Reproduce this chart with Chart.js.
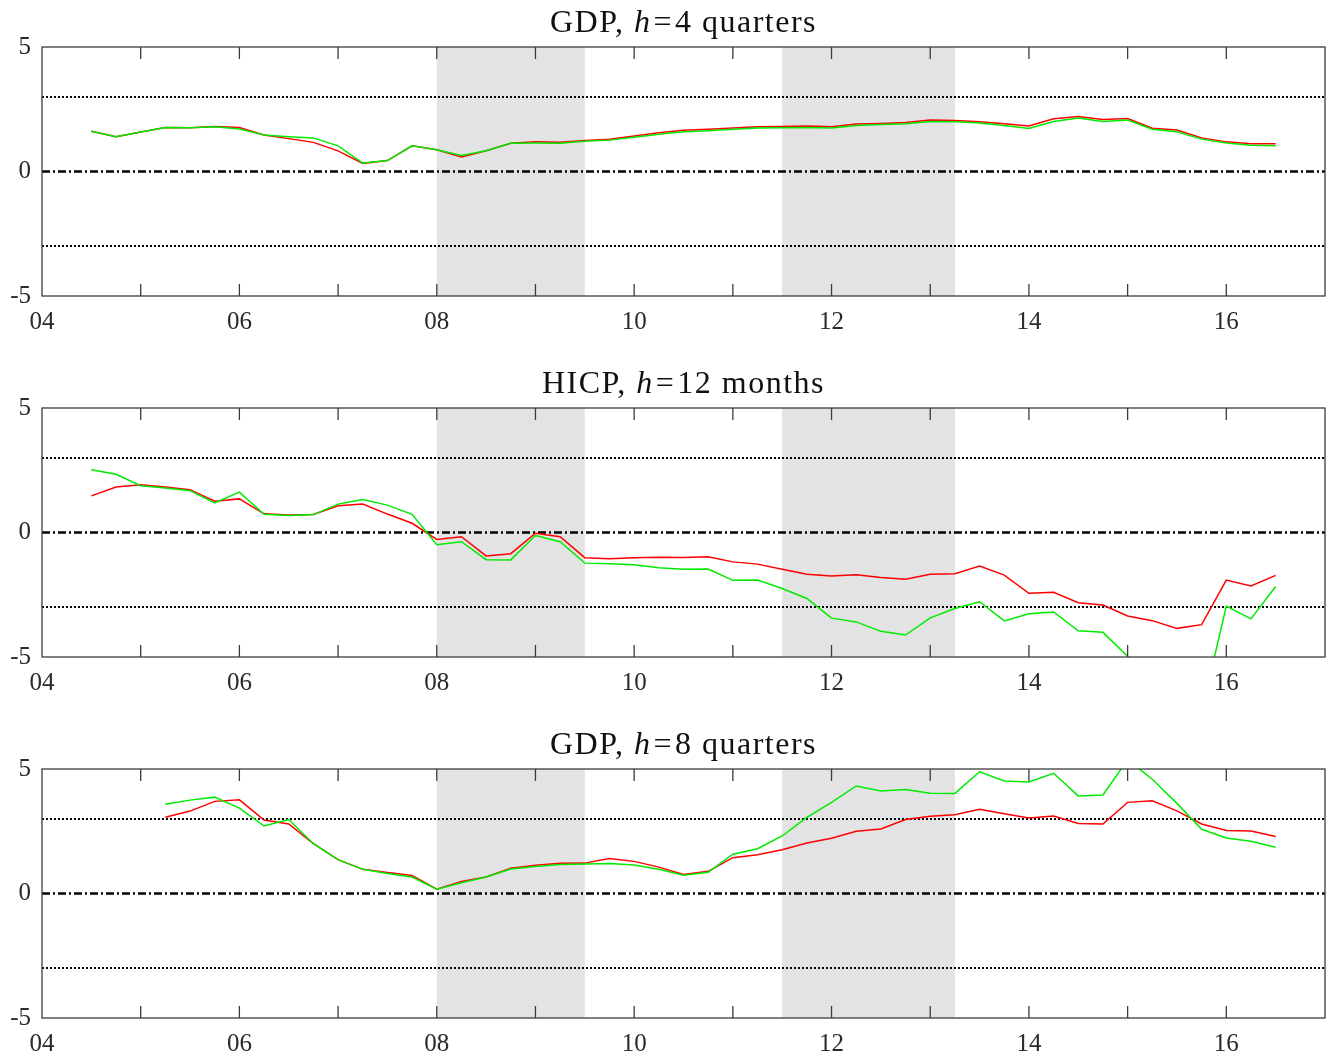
<!DOCTYPE html>
<html>
<head>
<meta charset="utf-8">
<script src="https://cdn.jsdelivr.net/npm/chart.js@4.4.1/dist/chart.umd.min.js"></script>
<style>
  body { margin: 0; background: #fff; }
  #wrap { position: relative; width: 1333px; height: 1058px; background: #fff; }
  canvas { position: absolute; left: 0; }
  .title { position: absolute; left: 42px; width: 1283px; text-align: center;
           font-family: "Liberation Serif", "DejaVu Serif", serif; font-size: 32px;
           color: #111; line-height: 32px; letter-spacing: 1.5px; z-index: 2; }
  .title .eq { margin: 0 2px; }
</style>
</head>
<body>
<div id="wrap">
  <canvas id="c1" width="1333" height="319"></canvas>
  <canvas id="c2" width="1333" height="319"></canvas>
  <canvas id="c3" width="1333" height="319"></canvas>
  <div class="title" id="t1">GDP, <i>h</i><span class="eq">=</span>4 quarters</div>
  <div class="title" id="t2">HICP, <i>h</i><span class="eq">=</span>12 months</div>
  <div class="title" id="t3">GDP, <i>h</i><span class="eq">=</span>8 quarters</div>
</div>
<script>
// dates (quarterly, decimal years)
const quarters = [2004.5, 2004.75, 2005, 2005.25, 2005.5, 2005.75, 2006, 2006.25, 2006.5, 2006.75,
  2007, 2007.25, 2007.5, 2007.75, 2008, 2008.25, 2008.5, 2008.75, 2009, 2009.25,
  2009.5, 2009.75, 2010, 2010.25, 2010.5, 2010.75, 2011, 2011.25, 2011.5, 2011.75,
  2012, 2012.25, 2012.5, 2012.75, 2013, 2013.25, 2013.5, 2013.75, 2014, 2014.25,
  2014.5, 2014.75, 2015, 2015.25, 2015.5, 2015.75, 2016, 2016.25, 2016.5];

// GDP h=4
const gdp4Red = [1.62, 1.40, 1.59, 1.77, 1.76, 1.81, 1.77, 1.47, 1.32, 1.17,
  0.83, 0.32, 0.44, 1.03, 0.87, 0.58, 0.83, 1.13, 1.19, 1.17,
  1.25, 1.30, 1.43, 1.56, 1.66, 1.70, 1.75, 1.80, 1.81, 1.83,
  1.80, 1.91, 1.93, 1.97, 2.07, 2.05, 2.00, 1.92, 1.83, 2.12,
  2.21, 2.09, 2.13, 1.74, 1.67, 1.35, 1.19, 1.11, 1.11];
const gdp4Green = [1.62, 1.40, 1.59, 1.77, 1.76, 1.80, 1.71, 1.47, 1.40, 1.35,
  1.03, 0.34, 0.44, 1.03, 0.87, 0.64, 0.83, 1.13, 1.14, 1.13,
  1.21, 1.26, 1.38, 1.50, 1.60, 1.64, 1.70, 1.75, 1.76, 1.77,
  1.75, 1.85, 1.89, 1.92, 2.01, 2.00, 1.95, 1.85, 1.73, 2.01,
  2.15, 2.01, 2.07, 1.70, 1.60, 1.30, 1.14, 1.05, 1.03];

// HICP h=12
const hicpRed = [1.47, 1.83, 1.92, 1.83, 1.72, 1.26, 1.35, 0.75, 0.70, 0.72,
  1.07, 1.14, 0.74, 0.37, -0.28, -0.17, -0.94, -0.85, -0.03, -0.17,
  -1.01, -1.05, -1.01, -0.99, -1.00, -0.97, -1.18, -1.27, -1.48, -1.68,
  -1.75, -1.70, -1.81, -1.88, -1.68, -1.66, -1.35, -1.71, -2.44, -2.40,
  -2.82, -2.91, -3.35, -3.54, -3.85, -3.70, -1.91, -2.15, -1.72];
const hicpGreen = [2.52, 2.34, 1.88, 1.79, 1.68, 1.19, 1.62, 0.73, 0.68, 0.72,
  1.14, 1.32, 1.10, 0.73, -0.49, -0.37, -1.09, -1.10, -0.12, -0.37,
  -1.23, -1.26, -1.30, -1.42, -1.48, -1.47, -1.92, -1.91, -2.25, -2.65,
  -3.44, -3.59, -3.97, -4.12, -3.43, -3.05, -2.78, -3.55, -3.26, -3.19,
  -3.95, -4.01, -4.97, -6.5, -7.6, -7.2, -2.96, -3.47, -2.17];

// GDP h=8
const gdp8Red = [null, null, null, 3.06, 3.31, 3.70, 3.76, 2.95, 2.79, 2.00,
  1.36, 0.97, 0.84, 0.72, 0.17, 0.48, 0.66, 1.01, 1.13, 1.21,
  1.22, 1.41, 1.29, 1.06, 0.76, 0.89, 1.44, 1.56, 1.76, 2.03,
  2.22, 2.50, 2.59, 2.97, 3.10, 3.16, 3.38, 3.20, 3.03, 3.11,
  2.81, 2.79, 3.66, 3.72, 3.32, 2.79, 2.53, 2.51, 2.29];
const gdp8Green = [null, null, null, 3.58, 3.75, 3.87, 3.43, 2.71, 2.97, 2.00,
  1.36, 0.97, 0.80, 0.66, 0.17, 0.43, 0.66, 0.98, 1.08, 1.16,
  1.18, 1.20, 1.14, 0.97, 0.73, 0.85, 1.58, 1.80, 2.31, 3.06,
  3.66, 4.32, 4.12, 4.18, 4.03, 4.02, 4.89, 4.52, 4.48, 4.83,
  3.92, 3.96, 5.37, 4.59, 3.62, 2.58, 2.23, 2.10, 1.86];

// axes
const yearTicks = [2005, 2006, 2007, 2008, 2009, 2010, 2011, 2012, 2013, 2014, 2015, 2016];
const labelYears = [2004, 2006, 2008, 2010, 2012, 2014, 2016];
const labelText = ['04', '06', '08', '10', '12', '14', '16'];
const shadeStart = [2008, 2011.5];
const shadeEnd = [2009.5, 2013.25];
const dotLevels = [3, -3];
const zeroLevel = 0;

const plotTops = [47, 408, 769];

const decor = {
  id: 'decor',
  beforeDatasetsDraw(chart) {
    const {ctx, chartArea: a, scales: {x, y}} = chart;
    ctx.save();
    ctx.fillStyle = '#e3e3e3';
    for (let i = 0; i < shadeStart.length; i++) {
      const x0 = x.getPixelForValue(shadeStart[i]);
      const x1 = x.getPixelForValue(shadeEnd[i]);
      ctx.fillRect(x0, a.top, x1 - x0, a.bottom - a.top);
    }
    ctx.strokeStyle = '#000';
    ctx.lineWidth = 2;
    ctx.setLineDash([2, 2]);
    dotLevels.forEach(v => {
      const py = Math.round(y.getPixelForValue(v));
      ctx.beginPath(); ctx.moveTo(Math.round(a.left), py); ctx.lineTo(a.right, py); ctx.stroke();
    });
    ctx.lineWidth = 2.6;
    ctx.setLineDash([8, 3, 2, 3]);
    const pz = y.getPixelForValue(zeroLevel);
    ctx.beginPath(); ctx.moveTo(a.left, pz); ctx.lineTo(a.right, pz); ctx.stroke();
    ctx.restore();
  },
  afterDatasetsDraw(chart) {
    const {ctx, chartArea: a, scales: {x}} = chart;
    ctx.save();
    ctx.strokeStyle = '#3c3c3c';
    ctx.lineWidth = 1.3;
    yearTicks.forEach(t => {
      const px = x.getPixelForValue(t);
      ctx.beginPath();
      ctx.moveTo(px, a.top); ctx.lineTo(px, a.top + 12);
      ctx.moveTo(px, a.bottom); ctx.lineTo(px, a.bottom - 12);
      ctx.stroke();
    });
    ctx.strokeRect(a.left, a.top, a.right - a.left, a.bottom - a.top);
    ctx.restore();
  }
};

function makePanel(n, red, green) {
  const top = plotTops[n];
  const cv = document.getElementById('c' + (n + 1));
  cv.style.top = (top - 20) + 'px';
  document.getElementById('t' + (n + 1)).style.top = (top - 42) + 'px';
  const tickFont = {family: '"Liberation Serif", "DejaVu Serif", serif', size: 25};
  new Chart(cv, {
    type: 'line',
    data: {
      labels: quarters,
      datasets: [
        {data: green, borderColor: 'rgb(0,235,0)', borderWidth: 1.5, pointRadius: 0, tension: 0, clip: 0, spanGaps: false},
        {data: red, borderColor: 'rgb(255,0,0)', borderWidth: 1.5, pointRadius: 0, tension: 0, clip: 0, spanGaps: false}
      ]
    },
    options: {
      responsive: false,
      animation: false,
      devicePixelRatio: 1,
      layout: {padding: {top: 20, right: 8, left: 0, bottom: 0}},
      plugins: {legend: {display: false}, tooltip: {enabled: false}},
      scales: {
        x: {
          type: 'linear', min: 2004, max: 2017,
          grid: {display: false, drawTicks: false},
          border: {display: false},
          afterFit: s => { s.height = 50; s.paddingLeft = 0; s.paddingRight = 0; },
          afterBuildTicks: s => { s.ticks = [2004].concat(yearTicks, [2017]).map(v => ({value: v})); },
          ticks: {
            autoSkip: false, maxRotation: 0, padding: 11, color: '#2a2a2a', font: tickFont,
            callback: v => { const i = labelYears.indexOf(v); return i >= 0 ? labelText[i] : ''; }
          }
        },
        y: {
          min: -5, max: 5,
          grid: {display: false, drawTicks: false},
          border: {display: false},
          afterFit: s => { s.width = 42; s.paddingTop = 0; s.paddingBottom = 0; },
          ticks: {stepSize: 5, padding: 11, color: '#2a2a2a', font: tickFont}
        }
      }
    },
    plugins: [decor]
  });
}

makePanel(0, gdp4Red, gdp4Green);
makePanel(1, hicpRed, hicpGreen);
makePanel(2, gdp8Red, gdp8Green);
</script>
</body>
</html>
